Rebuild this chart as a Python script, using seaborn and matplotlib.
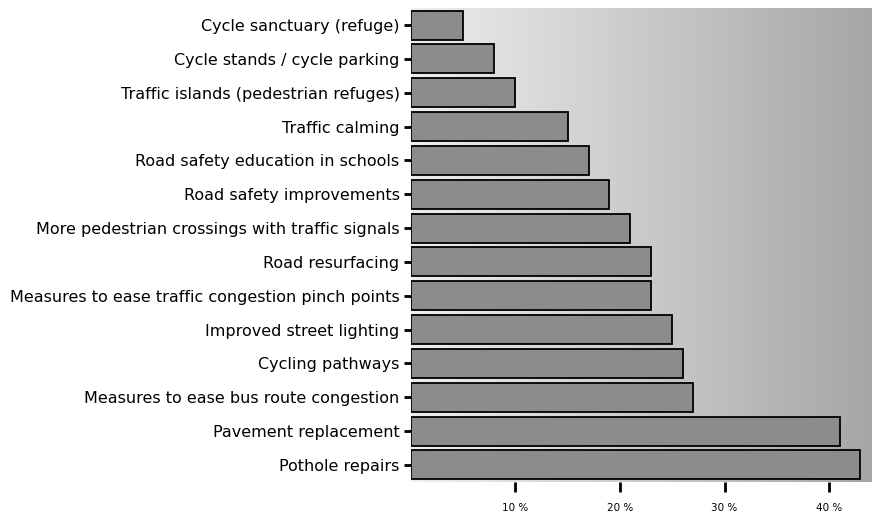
import numpy as np
import pandas as pd
import matplotlib
matplotlib.use("Agg")
import matplotlib.pyplot as plt
import seaborn as sns

categories = [
    "Cycle sanctuary (refuge)",
    "Cycle stands / cycle parking",
    "Traffic islands (pedestrian refuges)",
    "Traffic calming",
    "Road safety education in schools",
    "Road safety improvements",
    "More pedestrian crossings with traffic signals",
    "Road resurfacing",
    "Measures to ease traffic congestion pinch points",
    "Improved street lighting",
    "Cycling pathways",
    "Measures to ease bus route congestion",
    "Pavement replacement",
    "Pothole repairs",
]
percent = [5, 8, 10, 15, 17, 19, 21, 23, 23, 25, 26, 27, 41, 43]
tick_values = [10, 20, 30, 40]
tick_labels = ["10 %", "20 %", "30 %", "40 %"]

sns.set_theme(style="white")
plt.rcParams["font.family"] = ["DejaVu Sans"]

df = pd.DataFrame({"item": categories, "pct": percent})

fig = plt.figure(figsize=(8.72, 5.12), dpi=100)
ax = fig.add_axes([0.471, 0.059, 0.529, 0.925])

# shaded background, light on the left, darker to the right
grad = np.linspace(0.0, 1.0, 256).reshape(1, -1)
ax.imshow(grad, extent=[0, 1, 0, 1], transform=ax.transAxes, aspect="auto",
          cmap=matplotlib.colors.LinearSegmentedColormap.from_list("bg", ["#eeeeee", "#a6a6a6"]),
          zorder=0)

sns.barplot(data=df, x="pct", y="item", orient="h", color="#8c8c8c",
            edgecolor="black", linewidth=1.3, width=0.86, saturation=1, ax=ax, zorder=2)

ax.set_xlim(0, 44.1)
ax.set_ylim(13.5, -0.5)
ax.set_xticks(tick_values)
ax.set_xticklabels(tick_labels, fontsize=7.5)
ax.set_xlabel("")
ax.set_ylabel("")
ax.tick_params(axis="y", labelsize=11.5, length=5, width=2, direction="out", left=True,
               pad=3, colors="black", labelcolor="black")
ax.tick_params(axis="x", length=7, width=2, direction="out", bottom=True, pad=8,
               colors="black", labelcolor="black")
for s in ax.spines.values():
    s.set_visible(False)

plt.savefig("out.png", dpi=100)
plt.close()
